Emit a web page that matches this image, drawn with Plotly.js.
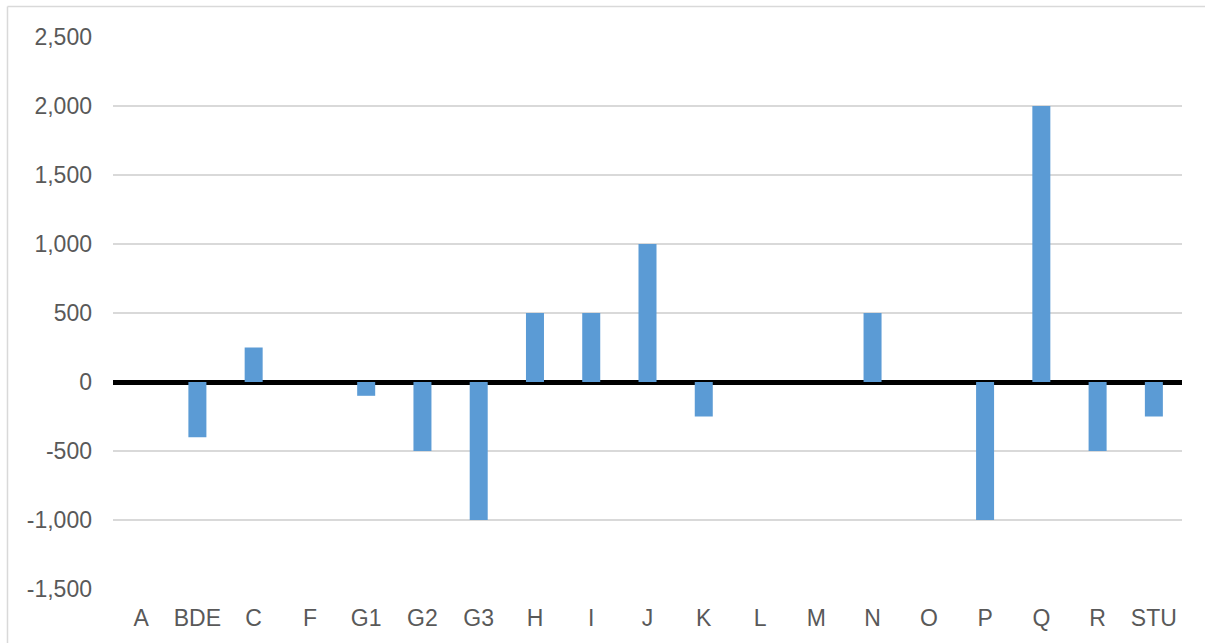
<!DOCTYPE html>
<html>
<head>
<meta charset="utf-8">
<script src="https://cdn.plot.ly/plotly-3.0.1.min.js"></script>
<style>
html,body{margin:0;padding:0;background:#fff;}
#chart{width:1205px;height:643px;}
</style>
</head>
<body>
<div id="chart"></div>
<script>
const categories = ["A","BDE","C","F","G1","G2","G3","H","I","J","K","L","M","N","O","P","Q","R","STU"];
const values = [0,-400,250,0,-100,-500,-1000,500,500,1000,-250,0,0,500,0,-1000,2000,-500,-250];
const yTicks = [-1500,-1000,-500,0,500,1000,1500,2000,2500];
const yTickLabels = ["-1,500","-1,000","-500","0","500","1,000","1,500","2,000","2,500"];

const trace = {
  type: 'bar',
  x: categories,
  y: values,
  marker: {color: '#5B9BD5', line: {width: 0}},
  hoverinfo: 'x+y'
};

const font = {family: 'Liberation Sans, Arial, sans-serif', size: 23, color: '#595959'};

const layout = {
  width: 1205,
  height: 643,
  margin: {l: 113, r: 23, t: 37, b: 54, pad: 0},
  paper_bgcolor: '#ffffff',
  plot_bgcolor: '#ffffff',
  showlegend: false,
  bargap: 0.68,
  font: font,
  xaxis: {
    type: 'category',
    tickfont: font,
    showgrid: false,
    zeroline: false,
    showline: false,
    ticks: '',
    ticklabelstandoff: 13
  },
  yaxis: {
    range: [-1500, 2500],
    tickvals: yTicks,
    ticktext: yTickLabels,
    tickfont: font,
    showgrid: true,
    gridcolor: '#D9D9D9',
    gridwidth: 1.5,
    zeroline: true,
    zerolinecolor: '#000000',
    zerolinewidth: 5,
    showline: false,
    ticks: '',
    ticklabelstandoff: 20
  },
  shapes: [
    {type: 'line', xref: 'paper', yref: 'paper', x0: -0.0987, x1: 1.05, y0: 1.0553, y1: 1.0553,
     line: {color: '#D9D9D9', width: 1.5}},
    {type: 'line', xref: 'paper', yref: 'paper', x0: -0.0987, x1: -0.0987, y0: 1.0553, y1: -0.2,
     line: {color: '#D9D9D9', width: 1.5}}
  ]
};

Plotly.newPlot('chart', [trace], layout, {displayModeBar: false, staticPlot: true});
</script>
</body>
</html>
